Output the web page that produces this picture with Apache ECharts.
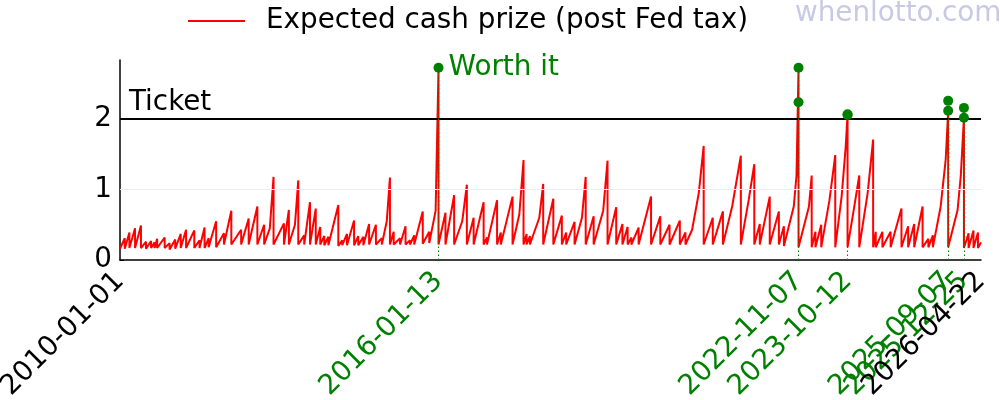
<!DOCTYPE html>
<html>
<head>
<meta charset="utf-8">
<script src="https://cdn.jsdelivr.net/npm/echarts@6/dist/echarts.min.js"></script>
<style>
  html, body { margin: 0; padding: 0; background: #fff; }
  #chart { width: 1000px; height: 400px; }
</style>
</head>
<body>
<div id="chart"></div>
<script>
// jackpot cycles: date of the win, expected value just before it, value right after the reset
const peakDates = [
  '2010-02-03','2010-03-07','2010-04-15','2010-05-26','2010-06-30','2010-08-04','2010-08-28','2010-09-15','2010-11-06','2010-12-10',
  '2011-01-18','2011-02-25','2011-04-03','2011-05-30','2011-07-05','2011-08-09','2011-09-06','2011-10-28','2011-12-21',
  '2012-02-10','2012-04-18','2012-06-09','2012-08-08','2012-09-24','2012-11-28',
  '2013-02-08','2013-03-14','2013-05-18','2013-06-28','2013-08-07','2013-09-16','2013-10-17','2013-11-14','2013-12-12',
  '2014-02-19','2014-03-18','2014-04-20','2014-06-08','2014-07-07','2014-08-11','2014-09-20','2014-11-06','2014-12-17',
  '2015-02-11','2015-03-09','2015-04-22','2015-05-30','2015-06-30','2015-07-29','2015-09-26','2015-11-10',
  '2016-01-13','2016-03-01','2016-04-30','2016-07-27','2016-09-12','2016-11-20','2016-12-13',
  '2017-02-21','2017-03-19','2017-06-08','2017-08-23','2017-09-13','2017-10-06',
  '2018-01-06','2018-03-17','2018-05-15','2018-06-14','2018-08-11','2018-10-27','2018-12-21',
  '2019-03-27','2019-05-26','2019-07-08','2019-08-13','2019-09-08','2019-10-28',
  '2020-01-22','2020-03-26','2020-05-29','2020-08-08','2020-09-16',
  '2021-01-20','2021-03-24','2021-06-02','2021-10-04',
  '2022-01-05','2022-02-12','2022-04-22','2022-06-24','2022-07-29','2022-11-07',
  '2023-02-06','2023-03-04','2023-04-13','2023-07-19','2023-10-12',
  '2024-01-01','2024-04-06','2024-04-24','2024-06-09','2024-08-05','2024-10-19','2024-12-04',
  '2025-01-15','2025-03-14','2025-04-23','2025-05-24','2025-09-07','2025-12-25',
  '2026-01-26','2026-03-01','2026-04-01'
];
const peakValues = [
  0.31,0.39,0.45,0.49,0.26,0.27,0.25,0.30,0.32,0.24,
  0.29,0.37,0.43,0.42,0.28,0.46,0.31,0.55,0.38,
  0.70,0.43,0.59,0.76,0.50,1.18,
  0.52,0.71,1.13,0.35,0.82,0.73,0.47,0.34,0.33,
  0.78,0.28,0.37,0.56,0.34,0.33,0.51,0.50,0.31,
  1.17,0.40,0.31,0.48,0.28,0.35,0.69,0.40,
  2.73,0.67,0.92,1.07,0.60,0.82,0.32,
  0.85,0.39,0.90,1.42,0.37,0.34,
  1.08,0.87,0.63,0.39,0.54,1.18,0.62,
  1.41,0.75,0.51,0.47,0.32,0.46,
  0.90,0.62,0.50,0.56,0.39,
  1.62,0.60,0.69,1.48,
  1.36,0.51,0.90,0.69,0.48,2.73,
  1.20,0.40,0.50,1.49,2.07,
  1.20,1.71,0.40,0.40,0.40,0.73,0.48,
  0.51,0.76,0.30,0.35,2.12,2.02,
  0.38,0.42,0.39
];
const resetValues = [
  0.16,0.17,0.17,0.17,0.16,0.17,0.17,0.17,0.17,0.15,
  0.16,0.17,0.17,0.17,0.17,0.17,0.18,0.18,0.22,
  0.22,0.22,0.22,0.22,0.22,0.22,
  0.22,0.22,0.22,0.22,0.22,0.22,0.22,0.21,0.21,
  0.20,0.21,0.21,0.21,0.21,0.21,0.22,0.22,0.22,
  0.22,0.22,0.22,0.22,0.22,0.22,0.23,0.24,
  0.22,0.22,0.22,0.22,0.22,0.22,0.22,
  0.22,0.22,0.22,0.22,0.22,0.22,
  0.22,0.22,0.22,0.22,0.22,0.22,0.22,
  0.22,0.22,0.22,0.22,0.22,0.22,
  0.22,0.22,0.22,0.22,0.22,
  0.22,0.22,0.22,0.22,
  0.22,0.22,0.22,0.22,0.20,0.18,
  0.18,0.18,0.18,0.18,0.18,
  0.18,0.18,0.18,0.18,0.18,0.18,0.18,
  0.18,0.18,0.18,0.18,0.18,0.17,
  0.17,0.17,0.17
];
// extra points on the curved run-ups of the bigger jackpots
const kneeDates = [
  '2012-11-02','2013-04-25','2015-01-20','2015-12-24','2016-06-25','2017-07-25','2017-12-10',
  '2018-10-01','2019-02-25','2020-11-01','2020-12-17','2021-08-05','2021-11-28','2022-10-05',
  '2022-10-24','2023-01-18','2023-06-09','2023-09-01','2023-09-29','2023-11-23','2024-02-28',
  '2025-07-17','2025-08-21','2025-11-11','2025-12-03'
];
const kneeValues = [
  0.45,0.50,0.55,0.70,0.55,0.65,0.60,
  0.60,0.70,0.43,0.95,0.76,0.86,0.76,
  1.20,0.76,0.85,0.90,1.60,0.70,0.95,
  0.76,1.43,0.71,1.19
];
const startPoint = ['2010-01-01', 0.16];
const endPoint = ['2026-04-22', 0.25];

// draws where the expected cash value beat the ticket price
const worthDates = ['2016-01-13','2022-11-07','2022-11-07','2023-10-12','2023-10-12','2025-09-07','2025-09-07','2025-12-25','2025-12-25'];
const worthValues = [2.73, 2.24, 2.73, 2.07, 2.06, 2.12, 2.26, 2.02, 2.16];

// x tick labels; the crowded ones each get their own label-only axis so none is dropped
const labelDates = ['2010-01-01','2016-01-13','2022-11-07','2023-10-12','2026-04-22'];
const crowdedLabelDates = ['2025-09-07','2025-12-25'];
const ticketPrice = 2;

const FONT = 'DejaVu Sans';
const FS = 27.8;
const toTs = d => echarts.number.parseDate(d).getTime();
const pad = n => (n < 10 ? '0' : '') + n;
const fmtDate = ts => {
  const d = new Date(ts);
  return d.getFullYear() + '-' + pad(d.getMonth() + 1) + '-' + pad(d.getDate());
};

let pts = [[toTs(startPoint[0]), startPoint[1]]];
peakDates.forEach((d, i) => {
  pts.push([toTs(d), peakValues[i]]);
  pts.push([toTs(d), resetValues[i]]);
});
kneeDates.forEach((d, i) => pts.push([toTs(d), kneeValues[i]]));
pts.push([toTs(endPoint[0]), endPoint[1]]);
pts.sort((a, b) => a[0] - b[0]);   // stable: peak stays before its reset

const worthSet = new Set(worthDates);
let vlines = [];
worthSet.forEach(d => {
  let top = 0;
  worthDates.forEach((w, i) => { if (w === d) top = Math.max(top, worthValues[i]); });
  vlines.push([{coord: [toTs(d), 0]}, {coord: [toTs(d), top]}]);
});

const worthData = worthDates.map((d, i) => {
  let item = {value: [toTs(d), worthValues[i]]};
  if (i === 0) {
    item.label = {show: true, formatter: 'Worth it', position: 'right', distance: 5,
      fontSize: FS, color: '#008000', fontFamily: FONT};
  }
  return item;
});

const xMin = toTs(startPoint[0]);
const xMax = toTs(endPoint[0]);

function dateAxis(values, showLine, z) {
  return {
    type: 'value', min: xMin, max: xMax, position: 'bottom', z: z,
    axisLine: {show: showLine, lineStyle: {color: '#000', width: 1.5}},
    axisTick: {show: false},
    splitLine: {show: false},
    axisLabel: {
      customValues: values.map(toTs),
      rotate: 45, margin: 17, hideOverlap: false,
      showMinLabel: true, showMaxLabel: true,
      fontSize: FS, fontFamily: FONT,
      formatter: v => {
        const s = fmtDate(v);
        return worthSet.has(s) ? '{g|' + s + '}' : '{k|' + s + '}';
      },
      rich: {
        g: {color: '#008000', fontSize: FS, fontFamily: FONT},
        k: {color: '#000', fontSize: FS, fontFamily: FONT}
      }
    }
  };
}

const chart = echarts.init(document.getElementById('chart'));
chart.setOption({
  animation: false,
  textStyle: {fontFamily: FONT},
  grid: {left: 120, right: 19, top: 60, bottom: 140, containLabel: false, outerBoundsMode: 'none'},
  legend: {
    left: 183, top: 2,
    icon: 'rect', itemWidth: 57, itemHeight: 2,
    textStyle: {fontSize: FS, color: '#000', fontFamily: FONT, padding: [0, 0, 0, 16]},
    data: ['Expected cash prize (post Fed tax)']
  },
  graphic: [{
    type: 'text', left: 795, top: 0,
    style: {text: 'whenlotto.com', fontSize: FS, fontFamily: FONT, fill: '#c9c9e6'}
  }],
  // main axis drawn on top so the black end label sits over the crowded green ones
  xAxis: [dateAxis(labelDates, true, 3)].concat(crowdedLabelDates.map((d, i) => dateAxis([d], false, 1 + i))),
  yAxis: {
    type: 'value', min: 0, max: 2.84, interval: 1,
    axisLine: {show: true, lineStyle: {color: '#000', width: 1.5}},
    axisTick: {show: true, inside: true, length: 4, customValues: [0, 1, 2], lineStyle: {color: '#000'}},
    splitLine: {show: false},
    axisLabel: {
      customValues: [0, 1, 2],
      fontSize: FS, color: '#000', margin: 8, fontFamily: FONT,
      formatter: v => (Math.abs(v - Math.round(v)) < 1e-9 ? String(Math.round(v)) : '')
    }
  },
  series: [
    {
      name: 'grid', type: 'line', data: [], z: 1, silent: true,
      markLine: {
        silent: true, symbol: ['none', 'none'], animation: false,
        data: [{yAxis: 1, lineStyle: {color: '#ececec', width: 1, type: 'solid'}, label: {show: false}}]
      }
    },
    {
      name: 'Expected cash prize (post Fed tax)',
      type: 'line', data: pts, symbol: 'none', z: 3,
      color: '#ff0000',
      lineStyle: {color: '#ff0000', width: 2},
      markLine: {
        silent: true, symbol: ['none', 'none'], animation: false,
        data: [{
          yAxis: ticketPrice,
          lineStyle: {color: '#000', width: 2, type: 'solid'},
          label: {show: true, formatter: 'Ticket', position: 'insideStartTop', distance: [9, 2],
            fontSize: FS, color: '#000', fontFamily: FONT}
        }]
      }
    },
    {
      name: 'worth', type: 'scatter', data: worthData, z: 5,
      symbolSize: 10, itemStyle: {color: '#008000', opacity: 1},
      markLine: {
        silent: true, symbol: ['none', 'none'], animation: false,
        lineStyle: {color: '#008000', width: 1, type: [1.5, 2.5]},
        label: {show: false},
        data: vlines
      }
    }
  ]
});
</script>
</body>
</html>
